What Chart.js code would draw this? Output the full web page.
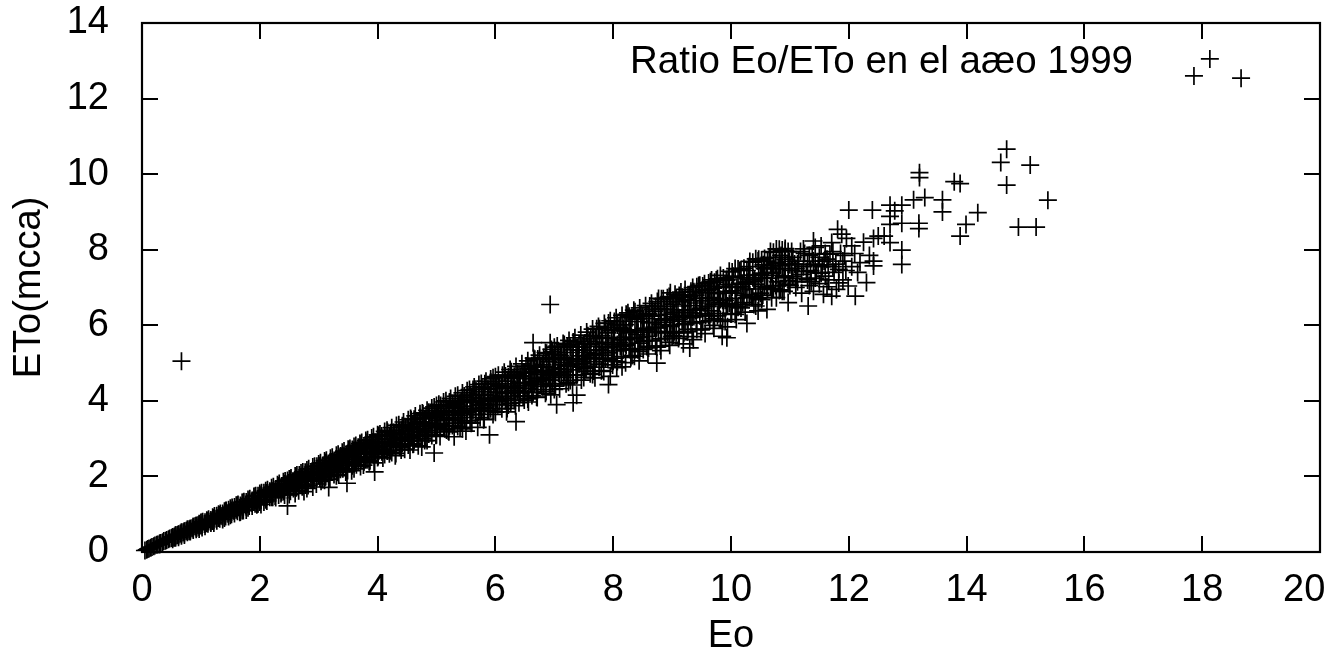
<!DOCTYPE html>
<html>
<head>
<meta charset="utf-8">
<script src="https://cdn.jsdelivr.net/npm/chart.js@4.4.0/dist/chart.umd.min.js"></script>
<style>
  html, body { margin: 0; padding: 0; background: #fff; }
  #wrap { width: 1336px; height: 664px; }
</style>
</head>
<body>
<div id="wrap"><canvas id="chart-ratio"></canvas></div>
<script>
// Datos: pares [Eo, ETo(mcca)]
const keyText = "Ratio Eo/ETo en el aæo 1999";
const xTitle = "Eo";
const yTitle = "ETo(mcca)";
const xTicks = [0, 2, 4, 6, 8, 10, 12, 14, 16, 18, 20];
const yTicks = [0, 2, 4, 6, 8, 10, 12, 14];

const lowRange = [
  [0.05,0.04],[0.08,0.06],[0.10,0.08],[0.12,0.09],[0.15,0.11],[0.17,0.13],[0.20,0.15],[0.22,0.17],[0.25,0.19],[0.27,0.20],
  [0.30,0.23],[0.30,0.20],[0.32,0.24],[0.35,0.26],[0.37,0.29],[0.40,0.30],[0.42,0.32],[0.45,0.34],[0.47,0.36],[0.50,0.37],
  [0.52,0.40],[0.55,0.41],[0.55,0.38],[0.57,0.44],[0.60,0.45],[0.62,0.47],[0.65,0.49],[0.67,0.52],[0.70,0.52],[0.72,0.55],
  [0.75,0.56],[0.77,0.60],[0.80,0.60],[0.80,0.55],[0.82,0.62],[0.85,0.63],[0.87,0.67],[0.90,0.68],[0.92,0.70],[0.93,0.64],
  [0.95,0.71],[0.97,0.75],
  [1.00,0.78],[1.00,0.70],[1.03,0.80],[1.06,0.74],[1.10,0.84],[1.10,0.76],[1.13,0.87],[1.16,0.81],[1.20,0.92],[1.20,0.82],
  [1.23,0.95],[1.26,0.88],[1.30,1.00],[1.30,0.90],[1.33,1.02],[1.36,0.95],[1.40,1.08],[1.40,0.98],[1.40,0.90],[1.43,1.10],
  [1.46,1.01],[1.50,1.16],[1.50,1.05],[1.50,0.97],[1.53,1.18],[1.56,1.09],[1.60,1.24],[1.60,1.12],[1.63,1.26],[1.66,1.15],
  [1.66,1.05],[1.70,1.31],[1.70,1.20],[1.70,1.10],[1.73,1.33],[1.76,1.24],[1.80,1.39],[1.80,1.28],[1.80,1.17],[1.83,1.41],
  [1.86,1.31],[1.90,1.47],[1.90,1.35],[1.93,1.49],[1.95,1.25],[1.96,1.38],[1.96,1.27],
  [2.00,1.55],[2.00,1.43],[2.00,1.32],[2.03,1.57],[2.06,1.46],[2.10,1.62],[2.10,1.50],[2.10,1.38],[2.13,1.65],[2.16,1.53],
  [2.20,1.70],[2.20,1.58],[2.20,1.45],[2.23,1.73],[2.26,1.60],[2.26,1.48],[2.30,1.78],[2.30,1.66],[2.33,1.81],[2.36,1.69],
  [2.36,1.55],[2.40,1.86],[2.40,1.73],[2.40,1.60],[2.43,1.88],[2.46,1.76],[2.47,1.22],[2.50,1.93],[2.50,1.80],[2.50,1.66],
  [2.50,1.52],[2.53,1.96],[2.56,1.83],[2.60,2.01],[2.60,1.88],[2.60,1.73],[2.60,1.55],[2.63,2.04],[2.66,1.90],[2.66,1.62],
  [2.70,2.09],[2.70,1.96],[2.70,1.80],[2.73,2.12],[2.75,1.60],[2.76,1.99],[2.80,2.17],[2.80,2.03],[2.80,1.87],[2.80,1.68],
  [2.83,2.20],[2.86,2.06],[2.90,2.25],[2.90,2.10],[2.90,1.94],[2.90,1.72],[2.93,2.27],[2.96,2.14],[2.96,1.80]
];

const midRange = [
  [3.00,2.33],[3.00,2.18],[3.00,2.02],[3.03,2.36],[3.06,2.22],[3.10,2.41],[3.10,2.26],[3.10,2.08],[3.10,1.90],[3.13,2.43],
  [3.16,2.30],[3.17,1.71],[3.20,2.48],[3.20,2.34],[3.20,2.15],[3.23,2.51],[3.26,2.38],[3.30,2.56],[3.30,2.42],[3.30,2.24],
  [3.30,2.02],[3.33,2.59],[3.36,2.46],[3.40,2.64],[3.40,2.49],[3.40,2.30],[3.43,2.67],[3.46,2.52],[3.46,2.12],[3.48,1.82],
  [3.50,2.72],[3.50,2.56],[3.50,2.38],[3.53,2.74],[3.56,2.60],[3.60,2.79],[3.60,2.63],[3.60,2.44],[3.60,2.20],[3.63,2.82],
  [3.66,2.68],[3.70,2.87],[3.70,2.71],[3.70,2.52],[3.73,2.90],[3.76,2.74],[3.76,2.30],[3.80,2.95],[3.80,2.78],[3.80,2.58],
  [3.83,2.97],[3.86,2.82],[3.86,2.40],[3.90,3.02],[3.90,2.86],[3.90,2.66],[3.93,3.05],[3.95,2.12],[3.96,2.90],
  [4.00,3.10],[4.00,2.93],[4.00,2.72],[4.00,2.50],[4.04,3.12],[4.08,2.98],[4.12,3.19],[4.12,3.00],[4.12,2.80],[4.16,3.22],
  [4.20,3.06],[4.20,2.86],[4.20,2.60],[4.24,3.29],[4.28,3.14],[4.30,2.55],[4.32,3.35],[4.32,3.16],[4.32,2.95],[4.36,3.37],
  [4.40,3.22],[4.40,2.98],[4.40,2.70],[4.44,3.44],[4.48,3.29],[4.52,3.50],[4.52,3.30],[4.52,3.07],[4.55,2.70],[4.56,3.53],
  [4.60,3.37],[4.60,3.12],[4.60,2.85],[4.64,3.60],[4.68,3.42],[4.72,3.66],[4.72,3.45],[4.72,3.20],[4.75,2.78],[4.76,3.68],
  [4.80,3.52],[4.80,3.26],[4.80,2.95],[4.84,3.75],[4.88,3.57],[4.92,3.81],[4.92,3.60],[4.92,3.34],[4.96,3.84],[4.96,2.62],
  [5.00,3.88],[5.00,3.66],[5.00,3.40],[5.00,3.10],[5.04,3.91],[5.08,3.71],[5.12,3.97],[5.12,3.75],[5.12,3.48],[5.16,4.00],
  [5.20,3.80],[5.20,3.52],[5.20,3.20],[5.24,4.06],[5.28,3.86],[5.30,3.05],[5.32,4.12],[5.32,3.90],[5.32,3.62],[5.36,4.15],
  [5.40,3.95],[5.40,3.66],[5.40,3.30],[5.44,4.21],[5.48,4.01],[5.50,3.20],[5.52,4.27],[5.52,4.04],[5.52,3.75],[5.56,4.30],
  [5.60,4.10],[5.60,3.80],[5.60,3.42],[5.64,4.37],[5.68,4.15],[5.70,3.30],[5.72,4.43],[5.72,4.18],[5.72,3.88],[5.76,4.46],
  [5.80,4.24],[5.80,3.93],[5.80,3.50],[5.84,4.52],[5.88,4.30],[5.90,3.10],[5.92,4.58],[5.92,4.33],[5.92,4.02],[5.96,4.61]
];

const highRange = [
  [6.00,4.64],[6.00,4.38],[6.00,4.08],[6.00,3.70],[6.05,4.68],[6.10,4.45],[6.10,4.12],[6.15,4.76],[6.20,4.52],[6.20,4.20],
  [6.20,3.80],[6.25,4.83],[6.30,4.60],[6.30,4.27],[6.35,4.91],[6.35,3.45],[6.40,4.67],[6.40,4.33],[6.40,3.95],[6.45,4.98],
  [6.50,4.74],[6.50,4.40],[6.55,5.06],[6.55,4.05],[6.60,4.82],[6.60,4.47],[6.64,5.54],[6.65,5.13],[6.70,4.89],[6.70,4.53],
  [6.70,4.10],[6.75,5.21],[6.80,4.96],[6.80,4.60],[6.85,5.28],[6.85,4.20],[6.90,5.03],[6.90,4.67],[6.93,5.54],[6.95,5.36],
  [6.98,5.10],[6.98,4.72],
  [7.00,5.42],[7.00,5.12],[7.00,4.78],[7.00,4.30],[7.04,3.90],[7.05,5.45],[7.10,5.20],[7.10,4.85],[7.15,5.52],[7.20,5.28],
  [7.20,4.92],[7.20,4.45],[7.25,5.60],[7.30,5.35],[7.30,4.98],[7.32,3.95],[7.35,5.67],[7.38,4.15],[7.40,5.42],[7.40,5.05],
  [7.45,5.74],[7.50,5.50],[7.50,5.12],[7.50,4.62],[7.55,5.82],[7.60,5.58],[7.60,5.20],[7.65,5.90],[7.65,4.70],[7.70,5.65],
  [7.70,5.26],[7.75,5.97],[7.80,5.72],[7.80,5.33],[7.80,4.80],[7.85,6.05],[7.90,5.80],[7.90,5.40],[7.92,4.43],[7.95,6.12],
  [7.95,4.65],
  [8.00,5.88],[8.00,5.48],[8.00,5.05],[8.05,6.20],[8.10,5.95],[8.10,5.55],[8.15,6.26],[8.15,4.90],[8.20,6.02],[8.20,5.62],
  [8.25,6.33],[8.30,6.10],[8.30,5.68],[8.30,5.15],[8.35,6.40],[8.40,6.16],[8.40,5.75],[8.45,6.46],[8.45,5.30],[8.50,6.24],
  [8.50,5.82],[8.55,6.52],[8.60,6.30],[8.60,5.88],[8.60,5.40],[8.65,6.58],[8.70,6.37],[8.70,5.95],[8.74,5.00],[8.75,6.63],
  [8.80,6.44],[8.80,6.02],[8.80,5.45],[8.85,6.70],[8.90,6.50],[8.90,6.08],[8.95,6.76],[8.95,5.55]
];

const topRange = [
  [9.00,6.56],[9.00,6.15],[9.00,5.70],[9.05,6.82],[9.10,6.62],[9.10,6.20],[9.15,6.88],[9.20,6.68],[9.20,6.27],[9.20,5.80],
  [9.22,6.95],[9.30,6.75],[9.30,6.33],[9.30,5.40],[9.35,7.00],[9.36,5.62],[9.40,6.80],[9.40,6.40],[9.45,7.05],[9.50,6.86],
  [9.50,6.45],[9.50,5.90],[9.55,7.10],[9.60,6.92],[9.60,6.50],[9.64,6.95],[9.65,7.15],[9.70,6.98],[9.70,6.56],[9.70,6.00],
  [9.75,7.20],[9.80,7.03],[9.80,6.60],[9.85,5.71],[9.90,7.08],[9.90,6.66],[9.90,6.10],[9.93,5.67],[9.93,7.21],[9.96,7.26],
  [10.00,6.85],[10.00,6.30],[10.04,7.30],[10.10,7.00],[10.10,6.50],[10.15,7.45],[10.20,7.10],[10.20,6.60],[10.27,6.05],[10.30,7.55],
  [10.30,7.15],[10.35,6.75],[10.40,7.20],[10.46,7.70],[10.50,7.35],[10.50,6.85],[10.55,7.60],[10.60,7.25],[10.61,6.42],[10.65,7.80],
  [10.70,7.40],[10.70,6.95],[10.75,7.65],[10.80,7.15],[10.80,7.50],[10.85,7.85],[10.90,7.30],[10.90,6.90],[10.92,7.97],[10.97,6.60],
  [11.00,7.60],[11.00,7.05],
  [11.05,7.80],[11.05,7.30],[11.10,7.50],[11.10,7.00],[11.15,7.70],[11.20,7.35],[11.20,6.85],[11.25,7.90],[11.30,7.60],[11.30,7.20],
  [11.31,6.51],[11.35,7.45],[11.40,8.23],[11.40,7.70],[11.40,6.90],[11.43,8.06],[11.45,7.40],[11.50,7.80],[11.50,7.10],[11.55,7.55],
  [11.57,6.82],[11.60,7.30],[11.60,7.90],[11.65,7.60],[11.71,8.19],[11.71,6.77],[11.75,7.40],[11.79,6.95],[11.81,8.54],[11.88,8.41],
  [11.90,7.70],[11.90,7.20],[11.96,8.30],[11.99,7.04],
  [11.08,7.62],[11.18,7.95],[11.28,7.42],[11.38,7.88],[11.48,7.58],[11.58,7.70],[11.68,7.88],[11.78,7.62],[11.86,7.90],[11.95,7.45],
  [11.12,7.25],[11.36,7.15],[11.66,7.20]
];

// Relleno de la nube densa (lecturas intermedias)
const fillLow = [
  [0.52,0.39],[0.52,0.37],[0.52,0.34],[0.57,0.44],[0.57,0.41],[0.57,0.38],[0.62,0.46],[0.62,0.43],[0.62,0.39],
  [0.67,0.51],[0.67,0.47],[0.67,0.43],[0.72,0.54],[0.72,0.49],[0.72,0.45],[0.77,0.57],[0.77,0.55],[0.77,0.52],
  [0.82,0.59],[0.82,0.57],[0.82,0.54],[0.87,0.67],[0.87,0.62],[0.87,0.58],[0.92,0.69],[0.92,0.65],[0.92,0.60],
  [0.97,0.72],[0.97,0.66],[0.97,0.61],[1.02,0.78],[1.02,0.71],[1.02,0.65],[1.07,0.79],[1.07,0.74],[1.07,0.68],
  [1.12,0.83],[1.12,0.81],[1.12,0.75],[1.17,0.85],[1.17,0.81],[1.17,0.77],[1.22,0.90],[1.22,0.84],[1.22,0.77],
  [1.27,0.96],[1.27,0.90],[1.27,0.83],[1.32,0.98],[1.32,0.95],[1.32,0.88],[1.37,1.02],[1.37,0.93],[1.37,0.86],
  [1.42,1.09],[1.42,1.02],[1.42,0.94],[1.47,1.12],[1.47,1.03],[1.47,0.94],[1.52,1.10],[1.52,1.06],[1.52,1.00],
  [1.57,1.19],[1.57,1.11],[1.57,1.02],[1.62,1.24],[1.62,1.16],[1.62,1.08],[1.67,1.23],[1.67,1.15],[1.67,1.06],
  [1.72,1.31],[1.72,1.20],[1.72,1.10],[1.77,1.32],[1.77,1.20],[1.77,1.11],[1.82,1.35],[1.82,1.31],[1.82,1.22],
  [1.87,1.36],[1.87,1.30],[1.87,1.22],[1.92,1.47],[1.92,1.37],[1.92,1.28],[1.97,1.49],[1.97,1.39],[1.97,1.28],
  [2.02,1.50],[2.02,1.37],[2.02,1.26],[2.07,1.57],[2.07,1.45],[2.07,1.32],[2.12,1.56],[2.12,1.46],[2.12,1.35],
  [2.17,1.61],[2.17,1.56],[2.17,1.45],[2.22,1.61],[2.22,1.54],[2.22,1.45],[2.27,1.67],[2.27,1.57],[2.27,1.44],
  [2.32,1.75],[2.32,1.64],[2.32,1.51],[2.37,1.75],[2.37,1.71],[2.37,1.59],[2.42,1.80],[2.42,1.65],[2.42,1.51],
  [2.47,1.89],[2.47,1.77],[2.47,1.64],[2.52,1.92],[2.52,1.76],[2.52,1.61],[2.57,1.86],[2.57,1.79],[2.57,1.68],
  [2.62,1.98],[2.62,1.85],[2.62,1.70],[2.67,2.04],[2.67,1.91],[2.67,1.78],[2.72,2.00],[2.72,1.88],[2.72,1.73],
  [2.77,2.11],[2.77,1.94],[2.77,1.77],[2.82,2.10],[2.82,1.92],[2.82,1.76],[2.87,2.12],[2.87,2.07],[2.87,1.92],
  [2.92,2.12],[2.92,2.03],[2.92,1.91],[2.97,2.27],[2.97,2.12],[2.97,1.98]
];

const fillMid = [
  [3.02,2.28],[3.02,2.13],[3.02,1.96],[3.07,2.29],[3.07,2.09],[3.07,1.92],[3.12,2.37],[3.12,2.18],[3.12,2.00],
  [3.17,2.33],[3.17,2.19],[3.17,2.01],[3.22,2.38],[3.22,2.32],[3.22,2.16],[3.27,2.37],[3.27,2.27],[3.27,2.14],
  [3.32,2.44],[3.32,2.29],[3.32,2.11],[3.37,2.54],[3.37,2.38],[3.37,2.19],[3.42,2.53],[3.42,2.46],[3.42,2.29],
  [3.47,2.59],[3.47,2.36],[3.47,2.17],[3.52,2.69],[3.52,2.52],[3.52,2.34],[3.57,2.71],[3.57,2.50],[3.57,2.28],
  [3.62,2.62],[3.62,2.52],[3.62,2.37],[3.67,2.77],[3.67,2.59],[3.67,2.39],[3.72,2.85],[3.72,2.66],[3.72,2.47],
  [3.77,2.77],[3.77,2.60],[3.77,2.39],[3.82,2.90],[3.82,2.67],[3.82,2.44],[3.87,2.88],[3.87,2.63],[3.87,2.42],
  [3.92,2.90],[3.92,2.82],[3.92,2.63],[3.97,2.88],[3.97,2.76],[3.97,2.60],[4.02,3.08],[4.02,2.87],[4.02,2.67],
  [4.07,3.07],[4.07,2.87],[4.07,2.65],[4.12,3.07],[4.12,2.80],[4.12,2.58],[4.17,3.17],[4.17,2.92],[4.17,2.67],
  [4.22,3.10],[4.22,2.91],[4.22,2.68],[4.27,3.16],[4.27,3.07],[4.27,2.86],[4.32,3.13],[4.32,3.00],[4.32,2.83],
  [4.37,3.21],[4.37,3.02],[4.37,2.77],[4.42,3.34],[4.42,3.12],[4.42,2.87],[4.47,3.31],[4.47,3.22],[4.47,2.99],
  [4.52,3.37],[4.52,3.07],[4.52,2.83],[4.57,3.50],[4.57,3.27],[4.57,3.04],[4.62,3.51],[4.62,3.23],[4.62,2.96],
  [4.67,3.39],[4.67,3.25],[4.67,3.06],[4.72,3.56],[4.72,3.33],[4.72,3.07],[4.77,3.65],[4.77,3.41],[4.77,3.17],
  [4.82,3.54],[4.82,3.33],[4.82,3.06],[4.87,3.70],[4.87,3.41],[4.87,3.12],[4.92,3.67],[4.92,3.35],[4.92,3.08],
  [4.97,3.68],[4.97,3.58],[4.97,3.33],[5.02,3.64],[5.02,3.49],[5.02,3.29],[5.07,3.88],[5.07,3.63],[5.07,3.37],
  [5.12,3.87],[5.12,3.61],[5.12,3.33],[5.17,3.85],[5.17,3.52],[5.17,3.23],[5.22,3.97],[5.22,3.65],[5.22,3.34],
  [5.27,3.87],[5.27,3.64],[5.27,3.35],[5.32,3.94],[5.32,3.83],[5.32,3.56],[5.37,3.89],[5.37,3.73],[5.37,3.52],
  [5.42,3.98],[5.42,3.74],[5.42,3.44],[5.47,4.13],[5.47,3.86],[5.47,3.56],[5.52,4.08],[5.52,3.97],[5.52,3.70],
  [5.57,4.15],[5.57,3.79],[5.57,3.48],[5.62,4.30],[5.62,4.02],[5.62,3.74],[5.67,4.31],[5.67,3.97],[5.67,3.63],
  [5.72,4.15],[5.72,3.98],[5.72,3.75],[5.77,4.36],[5.77,4.07],[5.77,3.75],[5.82,4.45],[5.82,4.16],[5.82,3.87],
  [5.87,4.31],[5.87,4.05],[5.87,3.73],[5.92,4.50],[5.92,4.14],[5.92,3.79],[5.97,4.45],[5.97,4.06],[5.97,3.73]
];

const fillHigh = [
  [6.02,4.45],[6.02,4.33],[6.02,4.03],[6.07,4.40],[6.07,4.22],[6.07,3.98],[6.12,4.68],[6.12,4.38],[6.12,4.07],
  [6.17,4.66],[6.17,4.35],[6.17,4.01],[6.22,4.63],[6.22,4.23],[6.22,3.89],[6.27,4.77],[6.27,4.39],[6.27,4.01],
  [6.32,4.65],[6.32,4.36],[6.32,4.01],[6.37,4.71],[6.37,4.59],[6.37,4.27],[6.42,4.65],[6.42,4.46],[6.42,4.21],
  [6.47,4.76],[6.47,4.46],[6.47,4.11],[6.52,4.92],[6.52,4.60],[6.52,4.24],[6.57,4.86],[6.57,4.73],[6.57,4.40],
  [6.62,4.93],[6.62,4.50],[6.62,4.14],[6.67,5.10],[6.67,4.77],[6.67,4.44],[6.72,5.11],[6.72,4.70],[6.72,4.30],
  [6.77,4.91],[6.77,4.71],[6.77,4.43],[6.82,5.15],[6.82,4.81],[6.82,4.43],[6.87,5.26],[6.87,4.91],[6.87,4.57],
  [6.92,5.09],[6.92,4.77],[6.92,4.39],[6.97,5.30],[6.97,4.88],[6.97,4.46],[7.02,5.23],[7.02,4.77],[7.02,4.39],
  [7.07,5.23],[7.07,5.09],[7.07,4.74],[7.12,5.16],[7.12,4.95],[7.12,4.66],[7.17,5.49],[7.17,5.13],[7.17,4.77],
  [7.22,5.45],[7.22,5.09],[7.22,4.69],[7.27,5.42],[7.27,4.94],[7.27,4.54],[7.32,5.56],[7.32,5.12],[7.32,4.68],
  [7.37,5.42],[7.37,5.09],[7.37,4.68],[7.42,5.49],[7.42,5.34],[7.42,4.97],[7.47,5.42],[7.47,5.19],[7.47,4.89],
  [7.52,5.53],[7.52,5.19],[7.52,4.78],[7.57,5.72],[7.57,5.34],[7.57,4.92],[7.62,5.64],[7.62,5.49],[7.62,5.11],
  [7.67,5.71],[7.67,5.22],[7.67,4.79],[7.72,5.91],[7.72,5.52],[7.72,5.13],[7.77,5.91],[7.77,5.44],[7.77,4.97],
  [7.82,5.67],[7.82,5.43],[7.82,5.12],[7.87,5.94],[7.87,5.55],[7.87,5.12],[7.92,6.06],[7.92,5.66],[7.92,5.27],
  [7.97,5.86],[7.97,5.50],[7.97,5.06],[8.02,6.10],[8.02,5.61],[8.02,5.13],[8.07,6.01],[8.07,5.49],[8.07,5.04],
  [8.12,6.01],[8.12,5.85],[8.12,5.44],[8.17,5.92],[8.17,5.68],[8.17,5.35],[8.22,6.29],[8.22,5.88],[8.22,5.47],
  [8.27,6.24],[8.27,5.83],[8.27,5.38],[8.32,6.20],[8.32,5.66],[8.32,5.20],[8.37,6.36],[8.37,5.86],[8.37,5.36],
  [8.42,6.19],[8.42,5.81],[8.42,5.35],[8.47,6.27],[8.47,6.10],[8.47,5.67],[8.52,6.18],[8.52,5.92],[8.52,5.58],
  [8.57,6.30],[8.57,5.91],[8.57,5.44],[8.62,6.51],[8.62,6.08],[8.62,5.60],[8.67,6.42],[8.67,6.24],[8.67,5.81],
  [8.72,6.50],[8.72,5.93],[8.72,5.45],[8.77,6.71],[8.77,6.27],[8.77,5.83],[8.82,6.70],[8.82,6.17],[8.82,5.64],
  [8.87,6.43],[8.87,6.16],[8.87,5.81],[8.92,6.73],[8.92,6.29],[8.92,5.80],[8.97,6.86],[8.97,6.41],[8.97,5.97]
];

const fillTop = [
  [9.02,6.63],[9.02,6.22],[9.02,5.73],[9.07,6.71],[9.07,6.35],[9.07,5.80],[9.12,6.79],[9.12,6.20],[9.12,5.70],
  [9.17,6.74],[9.17,6.51],[9.17,6.10],[9.22,6.68],[9.22,6.41],[9.22,6.04],[9.27,6.81],[9.27,6.40],[9.27,5.89],
  [9.32,6.90],[9.32,6.52],[9.32,6.06],[9.37,6.89],[9.37,6.65],[9.37,6.23],[9.42,7.02],[9.42,6.41],[9.42,5.89],
  [9.47,7.06],[9.47,6.72],[9.47,6.25],[9.52,7.04],[9.52,6.66],[9.52,6.09],[9.57,6.94],[9.57,6.65],[9.57,6.27],
  [9.62,7.12],[9.62,6.73],[9.62,6.25],[9.67,7.20],[9.67,6.87],[9.67,6.38],[9.72,7.14],[9.72,6.71],[9.72,6.17],
  [9.77,7.23],[9.77,6.84],[9.77,6.25],[9.82,7.32],[9.82,6.68],[9.82,6.14],[9.87,7.25],[9.87,7.01],[9.87,6.56],
  [9.92,7.19],[9.92,6.89],[9.92,6.50],[9.97,7.43],[9.97,7.08],[9.97,6.58],[10.02,7.41],[10.02,7.01],[10.02,6.51],
  [10.07,7.50],[10.07,6.85],[10.07,6.29],[10.12,7.49],[10.12,7.08],[10.12,6.48],[10.17,7.47],[10.17,7.02],[10.17,6.46],
  [10.22,7.51],[10.22,7.26],[10.22,6.80],[10.27,7.45],[10.27,7.14],[10.27,6.73],[10.32,7.69],[10.32,7.33],[10.32,6.81],
  [10.37,7.67],[10.37,7.26],[10.37,6.74],[10.42,7.76],[10.42,7.09],[10.42,6.51],[10.47,7.75],[10.47,7.33],[10.47,6.70],
  [10.52,7.73],[10.52,7.26],[10.52,6.68],[10.57,7.77],[10.57,7.50],[10.57,7.03],[10.62,7.70],[10.62,7.38],[10.62,6.96],
  [10.67,7.95],[10.67,7.58],[10.67,7.04],[10.72,7.93],[10.72,7.50],[10.72,6.97],[10.77,8.02],[10.77,7.32],[10.77,6.73],
  [10.82,8.01],[10.82,7.57],[10.82,6.92],[10.87,7.99],[10.87,7.50],[10.87,6.90],[10.92,8.03],[10.92,7.75],[10.92,7.26],
  [10.97,7.95],[10.97,7.62],[10.97,7.19],
  [11.03,7.95],[11.03,7.45],[11.13,7.62],[11.13,7.15],[11.23,8.02],[11.23,7.55],[11.33,7.85],[11.33,7.05],
  [11.43,7.62],[11.43,7.25],[11.53,8.10],[11.53,7.38],[11.63,7.75],[11.63,7.02],[11.73,7.95],[11.73,7.55],
  [11.83,7.48],[11.83,7.12],[11.93,7.85]
];

// Parte baja de la banda (dias con ETo relativamente menor)
const fillCore = [
  [3.04,1.87],[3.04,2.05],[3.11,1.99],[3.11,2.18],[3.19,1.93],[3.19,2.12],[3.26,2.05],[3.26,2.25],[3.34,2.05],[3.34,2.19],
  [3.41,2.20],[3.41,2.39],[3.49,2.16],[3.49,2.37],[3.56,2.15],[3.56,2.35],[3.64,2.31],[3.64,2.51],[3.71,2.26],[3.71,2.49],
  [3.79,2.44],[3.79,2.65],[3.86,2.39],[3.86,2.61],[3.94,2.36],[3.94,2.58],[4.01,2.53],[4.01,2.77],[4.09,2.49],[4.09,2.72],
  [4.16,2.68],[4.16,2.91],[4.24,2.63],[4.24,2.88],[4.31,2.61],[4.31,2.84],[4.39,2.79],[4.39,3.03],[4.46,2.72],[4.46,2.99],
  [4.54,2.93],[4.54,3.18],[4.61,2.86],[4.61,3.11],[4.69,2.81],[4.69,3.07],[4.76,3.00],[4.76,3.28],[4.84,2.95],[4.84,3.22],
  [4.91,3.17],[4.91,3.44],[4.99,3.09],[4.99,3.39],[5.06,3.06],[5.06,3.34],[5.14,3.26],[5.14,3.55],[5.21,3.18],[5.21,3.49],
  [5.29,3.41],[5.29,3.70],[5.36,3.32],[5.36,3.62],[5.44,3.26],[5.44,3.56],[5.51,3.47],[5.51,3.80],[5.59,3.41],[5.59,3.72],
  [5.66,3.65],[5.66,3.96],[5.74,3.56],[5.74,3.90],[5.81,3.52],[5.81,3.83],[5.89,3.74],[5.89,4.06],[5.96,3.64],[5.96,3.99],
  [6.04,3.90],[6.04,4.23],[6.11,3.79],[6.11,4.12],[6.19,3.71],[6.19,4.05],[6.26,3.94],[6.26,4.32],[6.34,3.87],[6.34,4.22],
  [6.41,4.13],[6.41,4.49],[6.49,4.02],[6.49,4.41],[6.56,3.97],[6.56,4.33],[6.64,4.22],[6.64,4.58],[6.71,4.09],[6.71,4.50],
  [6.79,4.38],[6.79,4.75],[6.86,4.25],[6.86,4.63],[6.94,4.16],[6.94,4.55],[7.01,4.42],[7.01,4.84],[7.09,4.32],[7.09,4.71],
  [7.16,4.62],[7.16,5.01],[7.24,4.49],[7.24,4.92],[7.31,4.42],[7.31,4.82],[7.39,4.69],[7.39,5.10],[7.46,4.55],[7.46,5.00],
  [7.54,4.86],[7.54,5.28],[7.61,4.72],[7.61,5.14],[7.69,4.61],[7.69,5.04],[7.76,4.89],[7.76,5.35],[7.84,4.78],[7.84,5.21],
  [7.91,5.10],[7.91,5.54],[7.99,4.95],[7.99,5.43],[8.06,4.88],[8.06,5.32],[8.14,5.17],[8.14,5.62],[8.21,5.01],[8.21,5.50],
  [8.29,5.35],[8.29,5.80],[8.36,5.18],[8.36,5.64],[8.44,5.06],[8.44,5.53],[8.51,5.36],[8.51,5.87],[8.59,5.24],[8.59,5.71],
  [8.66,5.59],[8.66,6.06],[8.74,5.42],[8.74,5.94],[8.81,5.33],[8.81,5.81],[8.89,5.65],[8.89,6.13],[8.96,5.47],[8.96,6.00],
  [9.04,5.83],[9.04,6.33],[9.11,5.65],[9.11,6.15],[9.19,5.51],[9.19,6.02],[9.26,5.83],[9.26,6.39],[9.34,5.70],[9.34,6.21],
  [9.41,6.07],[9.41,6.59],[9.49,5.88],[9.49,6.45],[9.56,5.78],[9.56,6.31],[9.64,6.12],[9.64,6.65],[9.71,5.92],[9.71,6.51],
  [9.79,6.31],[9.79,6.85],[9.86,6.11],[9.86,6.66],[9.94,5.96],[9.94,6.51],[10.01,6.31],[10.01,6.91],[10.09,6.15],[10.09,6.71],
  [10.16,6.55],[10.16,7.11],[10.24,6.35],[10.24,6.96],[10.31,6.75],[10.31,7.22],[10.39,6.55],[10.39,7.17],[10.46,6.38],[10.46,6.96],
  [10.54,6.80],[10.54,7.38],[10.61,7.00],[10.61,7.53],[10.69,6.73],[10.69,7.38],[10.76,7.05],[10.76,7.64],[10.84,6.94],[10.84,7.59],
  [10.91,7.26],[10.91,7.80],[10.99,7.09],[10.99,7.69]
];

const sparsePoints = [
  [0.67,5.05],[6.93,6.55],
  [12.00,9.05],[12.05,8.10],[12.05,7.55],[12.10,7.90],[12.11,6.77],[12.15,7.40],[12.19,7.66],[12.25,8.20],
  [12.30,7.13],[12.35,7.85],[12.40,9.05],[12.42,8.30],[12.42,7.70],[12.42,7.57],[12.50,8.36],[12.60,8.36],[12.70,9.18],[12.70,8.88],
  [12.70,8.67],[12.70,8.19],[12.78,9.03],[12.90,9.18],[12.90,8.70],[12.90,7.99],[12.90,7.61],[13.10,9.32],[13.19,8.70],[13.19,8.56],
  [13.20,10.04],[13.20,9.91],[13.29,9.38],[13.59,9.32],[13.59,9.00],[13.79,9.80],[13.89,9.75],[13.89,8.36],[13.99,8.67],[14.19,8.98],
  [14.58,10.31],[14.68,10.66],[14.68,9.71],[14.88,8.60],[15.08,10.24],[15.18,8.60],[15.38,9.31],
  [17.86,12.60],[18.13,13.05],[18.66,12.54]
];

const allPoints = [
  ...lowRange, ...fillLow, ...midRange, ...fillMid, ...fillCore,
  ...highRange, ...fillHigh, ...topRange, ...fillTop, ...sparsePoints,
];

const FONT = "'Liberation Sans', Arial, sans-serif";
const FONT_SIZE = 38;
const KEY_FONT_SIZE = 38.5;
const TICK_LEN = 16;

// Marco, marcas de escala hacia dentro (estilo gnuplot) y texto de la clave
const gnuplotFrame = {
  id: "gnuplotFrame",
  afterDatasetsDraw(chart) {
    const { ctx, chartArea: a, scales } = chart;
    ctx.save();
    ctx.strokeStyle = "#000";
    ctx.lineWidth = 2;
    ctx.beginPath();
    xTicks.forEach((v) => {
      const px = Math.round(scales.x.getPixelForValue(v));
      ctx.moveTo(px, a.bottom);
      ctx.lineTo(px, a.bottom - TICK_LEN);
      ctx.moveTo(px, a.top);
      ctx.lineTo(px, a.top + TICK_LEN);
    });
    yTicks.forEach((v) => {
      const py = Math.round(scales.y.getPixelForValue(v));
      ctx.moveTo(a.left, py);
      ctx.lineTo(a.left + TICK_LEN, py);
      ctx.moveTo(a.right, py);
      ctx.lineTo(a.right - TICK_LEN, py);
    });
    ctx.stroke();
    ctx.lineWidth = 2.2;
    ctx.strokeRect(a.left, a.top, a.right - a.left, a.bottom - a.top);

    ctx.fillStyle = "#000";
    ctx.font = `${KEY_FONT_SIZE}px ${FONT}`;
    ctx.textAlign = "right";
    ctx.textBaseline = "alphabetic";
    ctx.fillText(keyText, a.right - 187, a.top + 50);
    ctx.restore();
  },
};

function initRatioChart() {
  const canvas = document.getElementById("chart-ratio");
  if (!canvas) return;

  const config = {
    type: "scatter",
    data: {
      datasets: [
        {
          label: keyText,
          data: allPoints.map(([x, y]) => ({ x, y })),
          pointStyle: "cross",
          pointRadius: 9,
          pointHoverRadius: 9,
          pointBorderWidth: 1.7,
          borderColor: "#000",
          backgroundColor: "#000",
          clip: false,
        },
      ],
    },
    options: {
      responsive: true,
      maintainAspectRatio: false,
      animation: false,
      events: [],
      layout: { padding: 0 },
      plugins: {
        legend: { display: false },
        tooltip: { enabled: false },
      },
      scales: {
        x: {
          type: "linear",
          min: 0,
          max: 20,
          afterBuildTicks: (scale) => {
            scale.ticks = xTicks.map((value) => ({ value }));
          },
          afterFit: (scale) => {
            scale.height = 112;
            scale.paddingLeft = 0;
            scale.paddingRight = 16;
          },
          ticks: {
            color: "#000",
            padding: 8,
            maxRotation: 0,
            font: { family: FONT, size: FONT_SIZE },
            // la ultima etiqueta se desplaza hacia dentro como en el original
            callback: (value) => (value === 20 ? "20\u00a0\u00a0\u00a0" : String(value)),
          },
          grid: { display: false },
          border: { display: false },
          title: {
            display: true,
            text: xTitle,
            color: "#000",
            padding: { top: 0, bottom: 5 },
            font: { family: FONT, size: FONT_SIZE },
          },
        },
        y: {
          type: "linear",
          min: 0,
          max: 14,
          afterBuildTicks: (scale) => {
            scale.ticks = yTicks.map((value) => ({ value }));
          },
          afterFit: (scale) => {
            scale.width = 142;
            scale.paddingTop = 23;
            scale.paddingBottom = 0;
          },
          ticks: {
            color: "#000",
            padding: 25,
            font: { family: FONT, size: FONT_SIZE },
          },
          grid: { display: false },
          border: { display: false },
          title: {
            display: true,
            text: yTitle,
            color: "#000",
            padding: { top: 7, bottom: 0 },
            font: { family: FONT, size: FONT_SIZE },
          },
        },
      },
    },
    plugins: [gnuplotFrame],
  };

  canvas.chart = new Chart(canvas, config);
}

document.addEventListener("DOMContentLoaded", initRatioChart);
</script>
</body>
</html>
